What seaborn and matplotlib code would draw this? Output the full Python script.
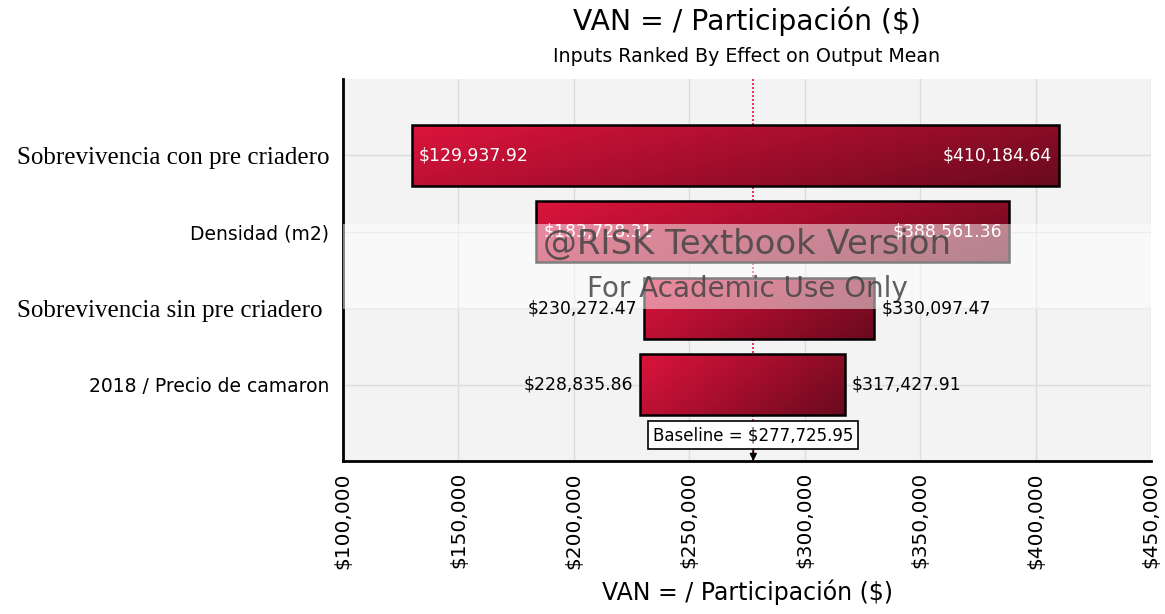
import numpy as np
import pandas as pd
import matplotlib
matplotlib.use("Agg")
import matplotlib.pyplot as plt
import seaborn as sns
from matplotlib.colors import LinearSegmentedColormap
from matplotlib.ticker import FuncFormatter, MultipleLocator

# ---- data ----
categories = ["Sobrevivencia con pre criadero", "Densidad (m2)",
              "Sobrevivencia sin pre criadero ", "2018 / Precio de camaron"]
low_values = [129937.92, 183728.31, 230272.47, 228835.86]
high_values = [410184.64, 388561.36, 330097.47, 317427.91]
baseline = 277725.95
x_ticks = [100000, 150000, 200000, 250000, 300000, 350000, 400000, 450000]

title = "VAN = / Participación ($)"
subtitle = "Inputs Ranked By Effect on Output Mean"

df = pd.DataFrame({"input": categories, "low": low_values, "high": high_values})

sns.set_style("white")
plt.rcParams["font.family"] = ["DejaVu Sans"]
plt.rcParams["text.color"] = "black"
plt.rcParams["axes.labelcolor"] = "black"
plt.rcParams["xtick.color"] = "black"
plt.rcParams["ytick.color"] = "black"

fig = plt.figure(figsize=(11.65, 6.14), dpi=100)
ax = fig.add_axes([343 / 1165, 1 - 461 / 614, (1151 - 343) / 1165, (461 - 79) / 614])
ax.set_facecolor("#f3f3f3")

sns.barplot(data=df, x="high", y="input", orient="h", width=0.8, ax=ax,
            color="#c8102e", edgecolor="black", linewidth=1.8, zorder=3)

cmap = LinearSegmentedColormap.from_list("risk", ["#dc143c", "#a50e2d", "#690a1e"])
gx, gy = np.meshgrid(np.linspace(0, 1, 200), np.linspace(0, 1, 40))
grad = 0.72 * gx + 0.28 * gy

for patch, lo, hi in zip(ax.patches, df["low"], df["high"]):
    patch.set_x(lo)
    patch.set_width(hi - lo)
    patch.set_facecolor("none")
    y0 = patch.get_y()
    h = patch.get_height()
    im = ax.imshow(grad, cmap=cmap, vmin=0, vmax=1, aspect="auto",
                   extent=(lo, hi, y0 + h, y0), origin="upper", zorder=2,
                   interpolation="bilinear")
    im.set_clip_path(patch)

ax.set_xlim(x_ticks[0], x_ticks[-1])
ax.set_ylim(4, -1)

# value labels
for i, (lo, hi) in enumerate(zip(df["low"], df["high"])):
    inside = (hi - lo) > 150000
    lo_txt = f"${lo:,.2f}"
    hi_txt = f"${hi:,.2f}"
    if inside:
        ax.annotate(lo_txt, (lo, i), xytext=(5, 0), textcoords="offset points",
                    ha="left", va="center", color="white", fontsize=12.4, zorder=5)
        ax.annotate(hi_txt, (hi, i), xytext=(-5, 0), textcoords="offset points",
                    ha="right", va="center", color="white", fontsize=12.4, zorder=5)
    else:
        ax.annotate(lo_txt, (lo, i), xytext=(-5, 0), textcoords="offset points",
                    ha="right", va="center", color="black", fontsize=12.4, zorder=9)
        ax.annotate(hi_txt, (hi, i), xytext=(5, 0), textcoords="offset points",
                    ha="left", va="center", color="black", fontsize=12.4, zorder=9)

# baseline
ax.axvline(baseline, color="#dc143c", linestyle=(0, (1.2, 1.2)), linewidth=1.2, zorder=1.5)
ax.annotate(f"Baseline = ${baseline:,.2f}", (baseline, 3.66), ha="center", va="center",
            fontsize=12, zorder=6,
            bbox=dict(boxstyle="square,pad=0.3", facecolor="white", edgecolor="black", linewidth=1.2))
ax.annotate("", xy=(baseline, 4.0), xytext=(baseline, 3.85),
            arrowprops=dict(arrowstyle="-|>", color="black", lw=1.2,
                            mutation_scale=10, shrinkA=0, shrinkB=0), zorder=6)

# grid
ax.grid(True, color="#dcdcdc", linewidth=1.0, zorder=0)
ax.set_axisbelow(True)
ax.xaxis.set_major_locator(MultipleLocator(50000))
ax.xaxis.set_major_formatter(FuncFormatter(lambda v, p: f"${v:,.0f}"))

for s in ["top", "right"]:
    ax.spines[s].set_visible(False)
for s in ["left", "bottom"]:
    ax.spines[s].set_color("black")
    ax.spines[s].set_linewidth(2)

ax.tick_params(axis="x", which="major", length=6, width=1.3, color="black",
               labelsize=14.5, labelrotation=90, pad=2, labelcolor="black")
ax.tick_params(axis="y", which="both", length=6, width=1.3, color="black", pad=4,
               labelcolor="black")
ax.set_yticks([-1, 4], minor=True)
ax.tick_params(axis="y", which="minor", length=6, width=1.3)

for lab in ax.get_yticklabels():
    t = lab.get_text()
    if t.startswith("Sobrevivencia"):
        lab.set_fontfamily("Liberation Serif")
        lab.set_fontsize(18)
    else:
        lab.set_fontfamily("DejaVu Sans")
        lab.set_fontsize(13.5)
    lab.set_color("black")

ax.set_ylabel("")
ax.set_xlabel(title, fontsize=17, color="black")
ax.xaxis.label.set_va("center")
ax.xaxis.set_label_coords(0.5, (461 - 592) / 382)

# watermark
band = plt.Rectangle((0, (461 - 309) / 382), 1, (309 - 224) / 382, transform=ax.transAxes,
                     facecolor="white", alpha=0.5, edgecolor="none", zorder=7)
ax.add_patch(band)
ax.text(0.5, (461 - 245) / 382, "@RISK Textbook Version", transform=ax.transAxes,
        ha="center", va="center", fontsize=24.4, color="#444444", alpha=0.85, zorder=8)
ax.text(0.5, (461 - 289) / 382, "For Academic Use Only", transform=ax.transAxes,
        ha="center", va="center", fontsize=20, color="#444444", alpha=0.85, zorder=8)

fig.text(747 / 1165, 1 - 21 / 614, title, ha="center", va="center", fontsize=20.3, color="black")
fig.text(747 / 1165, 1 - 57 / 614, subtitle, ha="center", va="center", fontsize=13.7, color="black")

fig.savefig("out.png", dpi=100)
